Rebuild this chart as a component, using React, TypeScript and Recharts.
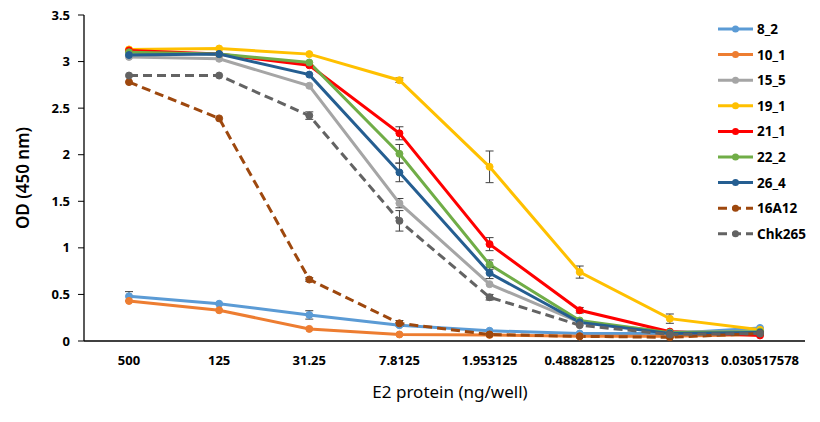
import React from "react";
import {
  ErrorBar,
  Label,
  Legend,
  Line,
  LineChart,
  XAxis,
  YAxis,
} from "recharts";

const doses = [
  "500",
  "125",
  "31.25",
  "7.8125",
  "1.953125",
  "0.48828125",
  "0.122070313",
  "0.030517578",
];

const yTicks = [0, 0.5, 1, 1.5, 2, 2.5, 3, 3.5];

const od8_2 = [0.48, 0.4, 0.28, 0.17, 0.11, 0.08, 0.08, 0.14];
const od10_1 = [0.43, 0.33, 0.13, 0.07, 0.065, 0.05, 0.05, 0.07];
const od15_5 = [3.05, 3.03, 2.74, 1.48, 0.61, 0.2, 0.1, 0.1];
const od19_1 = [3.13, 3.14, 3.08, 2.8, 1.87, 0.74, 0.24, 0.12];
const od21_1 = [3.12, 3.08, 2.96, 2.23, 1.04, 0.33, 0.1, 0.06];
const od22_2 = [3.1, 3.08, 2.99, 2.01, 0.82, 0.22, 0.09, 0.1];
const od26_4 = [3.07, 3.08, 2.86, 1.81, 0.73, 0.2, 0.08, 0.09];
const od16A12 = [2.78, 2.39, 0.66, 0.19, 0.07, 0.05, 0.04, 0.08];
const odChk265 = [2.85, 2.85, 2.42, 1.29, 0.47, 0.17, 0.07, 0.08];

// standard deviations (null = too small to see)
const sd8_2 = [0.05, null, 0.045, null, null, null, null, null];
const sd10_1 = [null, null, null, null, null, null, null, null];
const sd15_5 = [null, null, null, 0.05, null, null, null, null];
const sd19_1 = [null, null, null, 0.025, 0.17, 0.065, 0.05, null];
const sd21_1 = [null, null, null, 0.07, 0.07, 0.03, null, null];
const sd22_2 = [null, null, null, 0.1, 0.05, null, null, null];
const sd26_4 = [null, null, null, 0.1, 0.06, null, null, null];
const sd16A12 = [null, null, 0.02, 0.03, null, null, null, null];
const sdChk265 = [null, null, 0.04, 0.11, 0.03, null, null, null];

const series = [
  { key: "s8_2", name: "8_2", color: "#5B9BD5", values: od8_2, sd: sd8_2 },
  { key: "s10_1", name: "10_1", color: "#ED7D31", values: od10_1, sd: sd10_1 },
  { key: "s15_5", name: "15_5", color: "#A5A5A5", values: od15_5, sd: sd15_5 },
  { key: "s19_1", name: "19_1", color: "#FFC000", values: od19_1, sd: sd19_1 },
  { key: "s21_1", name: "21_1", color: "#FF0000", values: od21_1, sd: sd21_1 },
  { key: "s22_2", name: "22_2", color: "#70AD47", values: od22_2, sd: sd22_2 },
  { key: "s26_4", name: "26_4", color: "#255E91", values: od26_4, sd: sd26_4 },
  { key: "s16A12", name: "16A12", color: "#9E480E", values: od16A12, sd: sd16A12, dash: "9 5" },
  { key: "sChk265", name: "Chk265", color: "#636363", values: odChk265, sd: sdChk265, dash: "9 5" },
];

const data = doses.map((dose, i) => {
  const row: Record<string, string | number | null> = { dose };
  series.forEach((s) => {
    row[s.key] = s.values[i];
    row[s.key + "_err"] = s.sd[i];
  });
  return row;
});

const FONT = "'Noto Sans', 'Open Sans', sans-serif";
const tickStyle = { fontSize: 13, fontWeight: 700, fill: "#000", fontFamily: FONT };

function LegendBox() {
  return (
    <svg width={100} height={230} style={{ overflow: "visible" }}>
      {series.map((s, i) => {
        const y = 13 + i * 25.6;
        return (
          <g key={s.key}>
            <line
              x1={0}
              x2={35}
              y1={y}
              y2={y}
              stroke={s.color}
              strokeWidth={3}
              strokeDasharray={s.dash}
            />
            <circle cx={17.5} cy={y} r={3.5} fill={s.color} />
            <text
              x={39}
              y={y}
              dominantBaseline="central"
              fontSize={13.5}
              fontWeight={700}
              fontFamily={FONT}
              fill="#000"
            >
              {s.name}
            </text>
          </g>
        );
      })}
    </svg>
  );
}

export default function App() {
  return (
    <div style={{ position: "absolute", left: 0, top: 0, background: "#fff" }}>
      <LineChart
        width={820}
        height={422}
        data={data}
        margin={{ top: 15, right: 15, left: 0, bottom: 21 }}
      >
        <XAxis
          dataKey="dose"
          interval={0}
          padding={{ left: 45, right: 45 }}
          tickLine={false}
          tickSize={0}
          tickMargin={15}
          axisLine={{ stroke: "#000", strokeWidth: 1.3 }}
          tick={tickStyle}
          height={60}
        >
          <Label
            content={() => (
              <text
                x={450}
                y={391}
                textAnchor="middle"
                dominantBaseline="central"
                fontSize={17}
                fontFamily={FONT}
                fill="#000"
              >
                E2 protein (ng/well)
              </text>
            )}
          />
        </XAxis>
        <YAxis
          width={84}
          domain={[0, 3.5]}
          ticks={yTicks}
          interval={0}
          axisLine={{ stroke: "#000", strokeWidth: 1.3 }}
          tickLine={{ stroke: "#000" }}
          tickSize={6}
          tickMargin={8}
          tick={tickStyle}
        >
          <Label
            content={() => (
              <text
                x={22}
                y={178}
                transform="rotate(-90 22 178)"
                textAnchor="middle"
                dominantBaseline="central"
                fontSize={17}
                fontWeight={600}
                fontFamily={FONT}
                fill="#000"
              >
                OD (450 nm)
              </text>
            )}
          />
        </YAxis>
        <Legend
          layout="horizontal"
          verticalAlign="middle"
          align="center"
          wrapperStyle={{ left: 718, top: 16, width: 100, height: 230 }}
          content={() => <LegendBox />}
        />
        {series.map((s) => (
          <Line
            key={s.key}
            dataKey={s.key}
            name={s.name}
            type="linear"
            stroke={s.color}
            strokeWidth={3}
            strokeDasharray={s.dash}
            dot={{ r: 3.5, fill: s.color, stroke: s.color, strokeWidth: 1, strokeDasharray: "none" }}
            activeDot={false}
            isAnimationActive={false}
          >
            <ErrorBar
              dataKey={s.key + "_err"}
              width={4}
              stroke="#404040"
              strokeWidth={1}
              isAnimationActive={false}
            />
          </Line>
        ))}
      </LineChart>
    </div>
  );
}
